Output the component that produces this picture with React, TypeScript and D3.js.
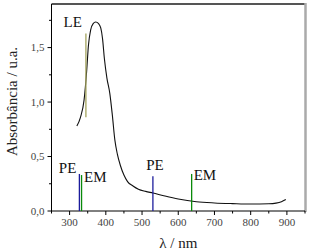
import React from "react";
import * as d3 from "d3";

// absorption spectrum
const wavelength = [320, 330, 340, 347, 352, 358, 365, 372, 380, 386, 391, 396, 403, 411, 418, 425, 432, 440, 450, 460, 475, 490, 510, 530, 560, 600, 650, 700, 750, 800, 850, 870, 885, 897];
const absorbance = [0.78, 0.86, 1.02, 1.28, 1.52, 1.66, 1.72, 1.735, 1.72, 1.68, 1.58, 1.4, 1.22, 1.08, 0.88, 0.65, 0.52, 0.42, 0.33, 0.27, 0.23, 0.2, 0.18, 0.165, 0.14, 0.11, 0.085, 0.074, 0.068, 0.064, 0.066, 0.072, 0.085, 0.105];

// marker lines
const markerLabels = ["LE", "PE", "EM", "PE", "EM"];
const markerLambda = [345, 327, 333, 530, 637];
const markerTop = [1.63, 0.34, 0.33, 0.32, 0.34];
const markerBottom = [0.86, 0, 0, 0, 0];

const yTicks = [0, 0.5, 1.0, 1.5];
const xTicks = [300, 400, 500, 600, 700, 800, 900];

const markerColors = ["#a3a35e", "#1c1c9c", "#0a8a0a", "#1c1c9c", "#0a8a0a"];
// label offsets relative to top of each line: [dx, dy, anchor]
const labelOffsets: [number, number, string][] = [
  [-4, -6, "end"],
  [-3, -1, "end"],
  [2.5, 7, "start"],
  [2, -6, "middle"],
  [2, 6, "start"],
];

export default function App() {
  const width = 310;
  const height = 252;
  const left = 51.5, right = 305, top = 4, bottom = 211;

  const x = d3.scaleLinear().domain([250, 950]).range([left, right]);
  const y = d3.scaleLinear().domain([0, 1.9]).range([bottom, top]);

  const line = d3.line<number>()
    .x((_, i) => x(wavelength[i]))
    .y(d => y(d))
    .curve(d3.curveMonotoneX);

  const fmt = (v: number) => d3.format(".1f")(v).replace(".", ",");
  const xMinor = d3.range(250, 951, 50).filter(v => !xTicks.includes(v));
  const yMinor = d3.range(0.25, 1.9, 0.5);
  const font = "'Liberation Serif', 'Times New Roman', serif";

  return (
    <svg width={width} height={height} style={{ position: "absolute", left: 0, top: 0 }}>
      <rect width={width} height={height} fill="#fff" />
      {/* frame */}
      <line x1={left} x2={right} y1={top} y2={top} stroke="#555" strokeWidth={2} />
      <line x1={right + 0.5} x2={right + 0.5} y1={top - 1} y2={bottom + 1} stroke="#aaa" strokeWidth={2.5} />
      <line x1={left} x2={left} y1={top} y2={bottom} stroke="#000" />
      <line x1={left} x2={right} y1={bottom} y2={bottom} stroke="#000" />

      {/* y axis */}
      {yTicks.map(t => (
        <g key={t}>
          <line x1={left - 4} x2={left} y1={y(t)} y2={y(t)} stroke="#000" />
          <text x={left - 7} y={y(t) + 3.5} fontSize={11} fontFamily={font} textAnchor="end" fill="#444">{fmt(t)}</text>
        </g>
      ))}
      {yMinor.map(t => (
        <line key={t} x1={left - 2.5} x2={left} y1={y(t)} y2={y(t)} stroke="#000" />
      ))}

      {/* x axis */}
      {xTicks.map(t => (
        <g key={t}>
          <line x1={x(t)} x2={x(t)} y1={bottom} y2={bottom + 4} stroke="#000" />
          <text x={x(t)} y={bottom + 15} fontSize={11} fontFamily={font} textAnchor="middle" fill="#444">{t}</text>
        </g>
      ))}
      {xMinor.map(t => (
        <line key={t} x1={x(t)} x2={x(t)} y1={bottom} y2={bottom + 2.5} stroke="#000" />
      ))}

      {/* spectrum */}
      <path d={line(absorbance) || ""} fill="none" stroke="#111" strokeWidth={1.1} />

      {/* markers */}
      {markerLabels.map((lab, i) => {
        const [dx, dy, anchor] = labelOffsets[i];
        const xi = x(markerLambda[i]);
        const yt = y(markerTop[i]);
        return (
          <g key={i}>
            <line x1={xi} x2={xi} y1={yt} y2={y(markerBottom[i])} stroke={markerColors[i]} strokeWidth={1.3} />
            <text x={xi + dx} y={yt + dy} fontSize={15} fontFamily={font} textAnchor={anchor} fill="#111">{lab}</text>
          </g>
        );
      })}

      {/* titles */}
      <text transform={`translate(17,${(top + bottom) / 2 - 6}) rotate(-90)`} fontSize={15} fontFamily={font} textAnchor="middle" fill="#222">Absorbância / u.a.</text>
      <text x={(left + right) / 2} y={248} fontSize={15} fontFamily={font} textAnchor="middle" fill="#222">λ / nm</text>
    </svg>
  );
}
